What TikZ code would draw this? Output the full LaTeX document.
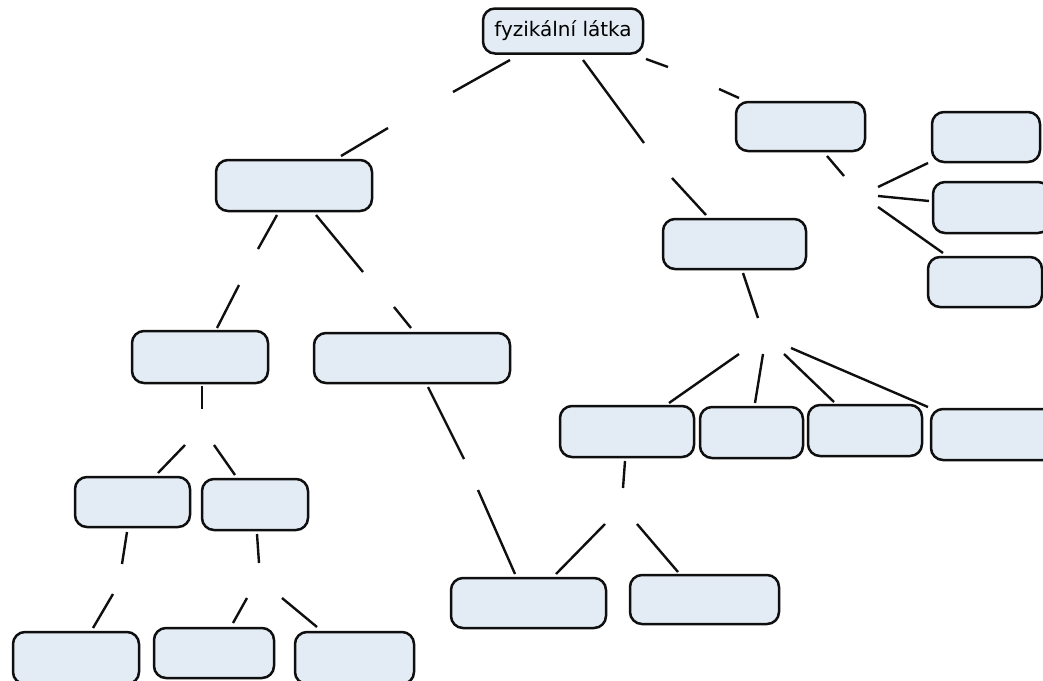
\documentclass[tikz,border=0pt]{standalone}
\usepackage{fontspec}
\setmainfont{DejaVu Sans}
\definecolor{boxfill}{RGB}{227,236,244}
\definecolor{ink}{RGB}{15,15,15}
\tikzset{
  box/.style={draw=ink, fill=boxfill, line width=2.5pt, rounded corners=12pt, inner sep=0pt},
  conn/.style={draw=ink, line width=2.4pt}
}
\newcommand{\bx}[5]{\node[box, minimum width=#4pt, minimum height=#5pt] (#1) at (#2,#3) {};}
\begin{document}
\begin{tikzpicture}[x=1pt,y=-1pt]
\useasboundingbox (0,0) rectangle (1043,680);
\clip (0,0) rectangle (1043,680);
\fill[white] (0,0) rectangle (1043,680);
% boxes
\node[box, minimum width=160pt, minimum height=45pt, font=\fontsize{20}{23}\selectfont] (top) at (563,31) {fyzikální látka};
\bx{b1}{294}{185.5}{156}{51}
\bx{b2}{734.5}{244}{143}{50}
\bx{b3}{800.5}{126.5}{129}{49}
\bx{r1}{986}{137}{108}{50}
\bx{r2}{991.5}{207.5}{117}{51}
\bx{r3}{985}{282}{114}{50}
\bx{l2a}{200}{357}{136}{52}
\bx{l2b}{412}{358}{196}{50}
\bx{l3a}{132.5}{502}{115}{50}
\bx{l3b}{255}{504.5}{106}{51}
\bx{l4a}{76}{658}{126}{52}
\bx{l4b}{214}{653}{120}{50}
\bx{l4c}{354.5}{658}{119}{52}
\bx{m1}{627}{431.5}{134}{51}
\bx{m2}{751.5}{432.5}{103}{51}
\bx{m3}{865}{430.5}{114}{51}
\bx{m4}{993}{434.5}{124}{51}
\bx{m5}{528.5}{603}{155}{50}
\bx{m6}{704.5}{599.5}{149}{49}
% connector end points (gaps are where link labels would go)
\coordinate (tb1a) at (510,60);  \coordinate (tb1b) at (453,92);
\coordinate (tb1c) at (388,128); \coordinate (tb1d) at (341,156);
\coordinate (tb2a) at (583,60);  \coordinate (tb2b) at (644,143);
\coordinate (tb2c) at (672,178); \coordinate (tb2d) at (706,215);
\coordinate (tb3a) at (646,59);  \coordinate (tb3b) at (668,67);
\coordinate (tb3c) at (719,89);  \coordinate (tb3d) at (739,98);
\coordinate (b3a) at (827,156);  \coordinate (b3b) at (844,176);
\coordinate (hr1) at (878,187);  \coordinate (r1e) at (928,163);
\coordinate (hr2) at (878,196);  \coordinate (r2e) at (929,201);
\coordinate (hr3) at (878,207);  \coordinate (r3e) at (943,253);
\coordinate (b1la) at (277,215); \coordinate (b1lb) at (258,249);
\coordinate (b1lc) at (239,285); \coordinate (b1ld) at (217,328);
\coordinate (b1ra) at (316,215); \coordinate (b1rb) at (363,272);
\coordinate (b1rc) at (394,307); \coordinate (b1rd) at (411,328);
\coordinate (b2a) at (743,273);  \coordinate (b2b) at (758,318);
\coordinate (hm1) at (739,354);  \coordinate (m1e) at (669,403);
\coordinate (hm2) at (763,354);  \coordinate (m2e) at (755,403);
\coordinate (hm3) at (784,354);  \coordinate (m3e) at (834,402);
\coordinate (hm4) at (791,348);  \coordinate (m4e) at (928,407);
\coordinate (l2aa) at (202,386); \coordinate (l2ab) at (202,409);
\coordinate (h3a) at (185,445);  \coordinate (l3ae) at (158,473);
\coordinate (h3b) at (214,445);  \coordinate (l3be) at (235,475);
\coordinate (l3aa) at (127,532); \coordinate (l3ab) at (122,564);
\coordinate (l3ac) at (113,594); \coordinate (l3ad) at (93,628);
\coordinate (l3ba) at (257,534); \coordinate (l3bb) at (259,563);
\coordinate (h4b) at (247,598);  \coordinate (l4be) at (233,623);
\coordinate (h4c) at (282,598);  \coordinate (l4ce) at (317,627);
\coordinate (l2ba) at (428,387); \coordinate (l2bb) at (464,459);
\coordinate (l2bc) at (478,490); \coordinate (l2bd) at (515,574);
\coordinate (m1a) at (625,461);  \coordinate (m1b) at (623,488);
\coordinate (h5) at (605,524);   \coordinate (m5e) at (556,574);
\coordinate (h6) at (637,524);   \coordinate (m6e) at (678,572);
% connectors
\foreach \a/\b in {tb1a/tb1b, tb1c/tb1d, tb2a/tb2b, tb2c/tb2d, tb3a/tb3b, tb3c/tb3d,
  b3a/b3b, hr1/r1e, hr2/r2e, hr3/r3e,
  b1la/b1lb, b1lc/b1ld, b1ra/b1rb, b1rc/b1rd,
  b2a/b2b, hm1/m1e, hm2/m2e, hm3/m3e, hm4/m4e,
  l2aa/l2ab, h3a/l3ae, h3b/l3be, l3aa/l3ab, l3ac/l3ad,
  l3ba/l3bb, h4b/l4be, h4c/l4ce,
  l2ba/l2bb, l2bc/l2bd, m1a/m1b, h5/m5e, h6/m6e}
  \draw[conn] (\a) -- (\b);
\end{tikzpicture}
\end{document}
